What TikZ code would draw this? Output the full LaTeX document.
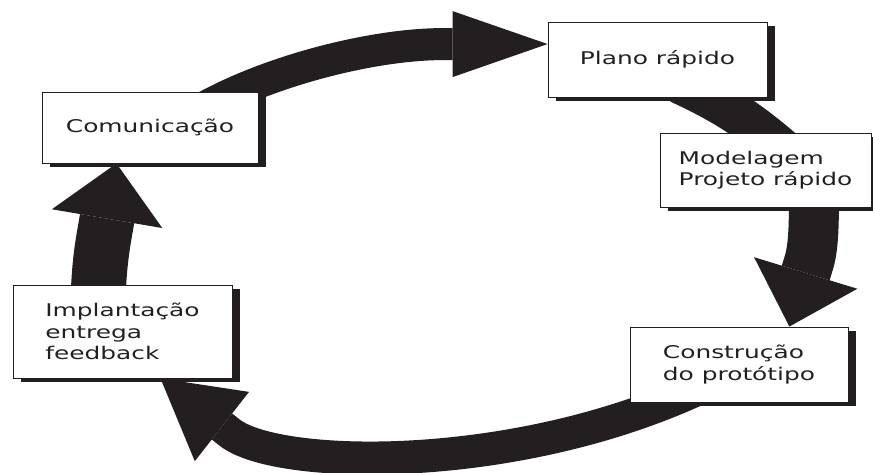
\documentclass[tikz,border=0pt]{standalone}
\usepackage{fontspec}
\newfontfamily\stagefont[FakeStretch=1.42]{DejaVu Sans}
\usetikzlibrary{arrows.meta,shadows,backgrounds}
\definecolor{ink}{RGB}{35,31,32}
\tikzset{
  stage/.style={draw=ink, line width=0.9pt, fill=white, text=ink, align=left,
    inner sep=0pt, minimum width=218pt, minimum height=75pt,
    font=\stagefont\fontsize{17.5}{21.5}\selectfont,
    drop shadow={shadow xshift=8pt, shadow yshift=-4pt, fill=ink, opacity=1}},
  flow/.style={draw=ink, line width=#1}
}
\begin{document}
\begin{tikzpicture}[x=1pt,y=1pt]
\useasboundingbox (0,0) rectangle (873,473);
% comunicacao
  \node[stage, minimum width=216pt, minimum height=71pt] (com) at (150,345.5) {Comunicação};
% plano rapido
  \node[stage, minimum width=219pt] (plano) at (657.5,413.5) {Plano rápido};
% modelagem
  \node[stage, minimum width=211pt, minimum height=74pt] (model) at (765.5,303) {Modelagem\\Projeto rápido};
% construcao
  \node[stage] (constr) at (739,108.5) {Construção\\do protótipo};
% implantacao
  \node[stage, minimum width=219pt, minimum height=93pt] (impl) at (122.5,141.5) {Implantação\\entrega\\feedback};
%%%%%%%%%%%%%%%%
\begin{scope}[on background layer]
\draw[flow=32pt, -{Triangle[length=95pt, width=66pt, line width=0pt]}]
  ([shift={(48,16.5)}]com.center) .. controls (267,402) and (373,428.9) .. (443,428.9) -- (plano.172);
\draw[flow=41pt] ([shift={(21.5,-23.5)}]plano.center) to[bend left=8] ([shift={(21.5,17)}]model.center);
\draw[flow=50pt, -{Triangle[length=56pt, width=108pt, line width=0pt]}]
  ([shift={(48.5,-13)}]model.center) .. controls (814,250) and (814,225.9) .. (808.4,208.8) -- (constr.37);
\draw[flow=33pt, -{Triangle[length=78pt, width=88pt, line width=0pt]}]
  ([shift={(-39,-23.5)}]constr.center) .. controls (513,-2) and (277,3.3) .. (229.8,40.3) -- ([xshift=38pt]impl.south);
\draw[flow=55pt, -{Triangle[length=56pt, width=112pt, line width=0pt]}]
  ([shift={(-24.5,18.5)}]impl.center) .. controls (98,205) and (102.9,230.2) .. (105.5,245) -- (com.227);
\end{scope}
\end{tikzpicture}
\end{document}
